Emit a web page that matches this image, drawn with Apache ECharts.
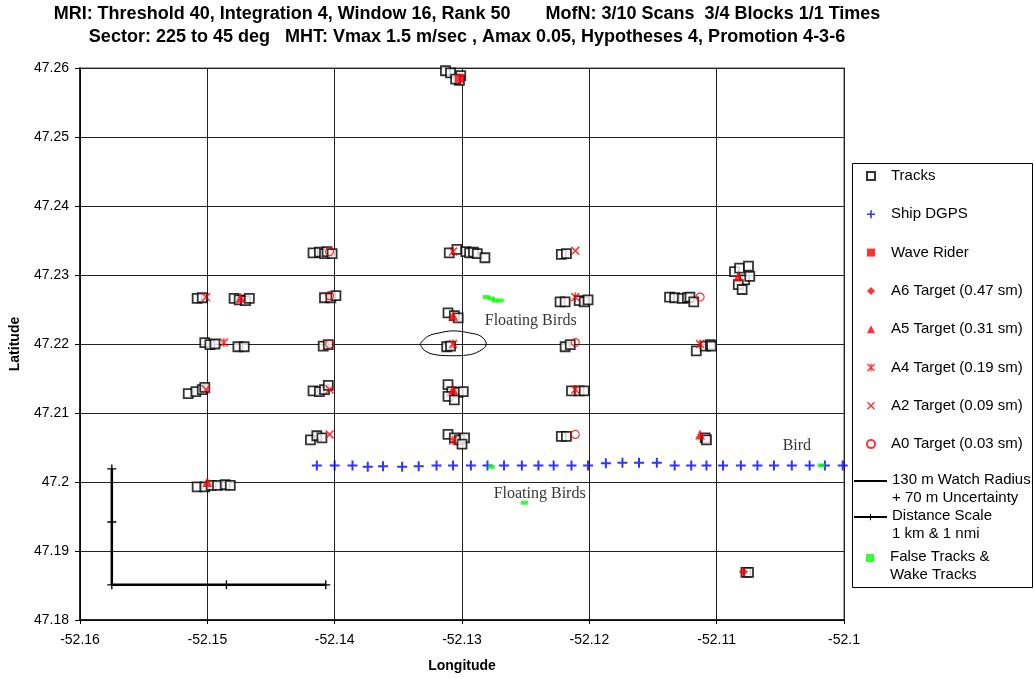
<!DOCTYPE html>
<html>
<head>
<meta charset="utf-8">
<title>MRI tracks</title>
<script src="https://cdn.jsdelivr.net/npm/echarts@6/dist/echarts.min.js"></script>
<style>
html,body{margin:0;padding:0;background:#fff;}
#main{width:1034px;height:679px;}
</style>
</head>
<body>
<div id="main"></div>
<script>
// axis ranges
const lonRange = [-52.16, -52.1]
const latRange = [47.18, 47.26]
const step = 0.01

// radar tracks [lon, lat]
const trackPts = [
  [-52.1313,47.2596],[-52.1309,47.2593],[-52.1301,47.2589],[-52.1302,47.2582],[-52.1305,47.2584],
  [-52.1417,47.2332],[-52.1412,47.2333],[-52.1408,47.2331],[-52.1406,47.2334],[-52.1402,47.2331],
  [-52.1310,47.2332],[-52.1304,47.2337],[-52.1297,47.2334],[-52.1294,47.2332],[-52.1291,47.2333],[-52.1288,47.2331],[-52.1282,47.2325],
  [-52.1222,47.2330],[-52.1218,47.2331],
  [-52.1086,47.2305],[-52.1082,47.2310],[-52.1075,47.2313],[-52.1078,47.2293],[-52.1083,47.2286],[-52.1074,47.2298],[-52.1080,47.2279],
  [-52.1508,47.2266],[-52.1504,47.2267],
  [-52.1479,47.2266],[-52.1475,47.2264],[-52.1470,47.2263],[-52.1467,47.2266],
  [-52.1408,47.2267],[-52.1403,47.2267],[-52.1399,47.2270],
  [-52.1311,47.2245],[-52.1306,47.2241],[-52.1303,47.2238],
  [-52.1502,47.2202],[-52.1498,47.2199],[-52.1494,47.2200],[-52.1476,47.2196],[-52.1471,47.2196],
  [-52.1409,47.2197],[-52.1405,47.2199],
  [-52.1312,47.2196],[-52.1309,47.2197],
  [-52.1515,47.2128],[-52.1509,47.2131],[-52.1504,47.2134],[-52.1502,47.2137],
  [-52.1417,47.2132],[-52.1412,47.2131],[-52.1408,47.2134],[-52.1405,47.2140],
  [-52.1311,47.2141],[-52.1308,47.2131],[-52.1303,47.2130],[-52.1299,47.2131],[-52.1311,47.2124],[-52.1306,47.2119],
  [-52.1419,47.2061],[-52.1414,47.2067],[-52.1410,47.2064],
  [-52.1311,47.2069],[-52.1306,47.2064],[-52.1302,47.2061],[-52.1298,47.2064],[-52.1300,47.2055],
  [-52.1223,47.2261],[-52.1219,47.2261],[-52.1208,47.2263],[-52.1204,47.2261],[-52.1201,47.2264],
  [-52.1137,47.2268],[-52.1133,47.2267],[-52.1127,47.2266],[-52.1123,47.2267],[-52.1121,47.2268],[-52.1118,47.2261],
  [-52.1219,47.2196],[-52.1215,47.2199],
  [-52.1116,47.2190],[-52.1109,47.2197],[-52.1105,47.2199],[-52.1104,47.2197],
  [-52.1214,47.2132],[-52.1208,47.2132],[-52.1204,47.2132],
  [-52.1222,47.2066],[-52.1218,47.2066],
  [-52.1109,47.2064],[-52.1108,47.2061],
  [-52.1508,47.1993],[-52.1502,47.1993],[-52.1497,47.1995],[-52.1492,47.1995],[-52.1486,47.1996],[-52.1482,47.1995],
  [-52.1077,47.1869],[-52.1075,47.1869]
]

// ship track
const shipLon = [-52.1414,-52.1400,-52.1386,-52.1374,-52.1362,-52.1347,-52.1334,-52.1320,-52.1307,-52.1293,
  -52.1280,-52.1267,-52.1253,-52.1240,-52.1228,-52.1214,-52.1201,-52.1187,-52.1174,-52.1161,
  -52.1147,-52.1133,-52.1120,-52.1108,-52.1095,-52.1081,-52.1068,-52.1055,-52.1041,-52.1027,-52.1015,-52.1001]
const shipLat = [47.2024,47.2024,47.2024,47.2022,47.2023,47.2022,47.2023,47.2024,47.2024,47.2024,
  47.2024,47.2024,47.2024,47.2024,47.2024,47.2024,47.2024,47.2027,47.2028,47.2028,
  47.2028,47.2024,47.2024,47.2024,47.2024,47.2024,47.2024,47.2024,47.2024,47.2024,47.2024,47.2024]

// targets
const waveRider = [[-52.1302,47.2585]]
const a6Pts = [[-52.1079,47.1870]]
const a5Pts = [[-52.1083,47.2298],[-52.1474,47.2267],[-52.1307,47.2241],[-52.1307,47.2134],[-52.1113,47.2069],[-52.1500,47.2000]]
const a4Pts = [[-52.1307,47.2334],[-52.1487,47.2202],[-52.1307,47.2200],[-52.1307,47.2060],[-52.1211,47.2268],[-52.1113,47.2200],[-52.1211,47.2134]]
const a2Pts = [[-52.1211,47.2335],[-52.1501,47.2268],[-52.1501,47.2134],[-52.1404,47.2134],[-52.1404,47.2069]]
const a0Pts = [[-52.1404,47.2334],[-52.1404,47.2270],[-52.1404,47.2200],[-52.1113,47.2268],[-52.1211,47.2202],[-52.1211,47.2069]]

const falsePts = [[-52.1281,47.2268],[-52.1277,47.2266],[-52.1274,47.2263],[-52.1270,47.2263],
  [-52.1277,47.2022],[-52.1251,47.1970],[-52.1018,47.2024]]

// watch radius outline
const watchRing = [[-52.1333,47.2200],[-52.1327,47.2211],[-52.1318,47.2216],[-52.1307,47.2219],[-52.1294,47.2216],
  [-52.1285,47.2211],[-52.1281,47.2200],[-52.1286,47.2190],[-52.1296,47.2184],[-52.1307,47.2183],
  [-52.1319,47.2184],[-52.1329,47.2190],[-52.1333,47.2200]]

const scaleBar = [[-52.1575,47.2019],[-52.1575,47.1942],[-52.1575,47.1851],[-52.1485,47.1851],[-52.1407,47.1851]]

const notes = [
  {name:'Floating Birds', value:[-52.1246,47.2234]},
  {name:'Floating Birds', value:[-52.1239,47.1983]},
  {name:'Bird', value:[-52.1037,47.2053]}
]

const plusPath = 'path://M0,4H10V6H0Z M4,0H6V10H4Z'
const crossPath = 'path://M0,1L1,0L8,7L7,8Z M7,0L8,1L1,8L0,7Z'
const starPath = 'path://M0,1L1,0L8,7L7,8Z M7,0L8,1L1,8L0,7Z M3.4,0H4.6V8H3.4Z'
const tickPath = 'path://M0,3.4H8V4.6H0Z M3.4,0H4.6V8H3.4Z'

const font = 'Liberation Sans'
const myChart = echarts.init(document.getElementById('main'))

// two-line legend entries: blank spacer on top so the icon sits by the first line
const twoLine = function (name) {
  const parts = name.split('\n')
  return '{s| }\n{a|' + parts[0] + '}\n{a|' + parts[1] + '}'
}
const twoLineText = {
  fontFamily: font, fontSize: 15, color: '#000',
  rich: {
    s: {fontSize: 10, lineHeight: 16},
    a: {fontFamily: font, fontSize: 15, color: '#000', lineHeight: 18}
  }
}

const option = {
  animation: false,
  backgroundColor: '#fff',
  title: {
    text: 'MRI: Threshold 40, Integration 4, Window 16, Rank 50       MofN: 3/10 Scans  3/4 Blocks 1/1 Times\nSector: 225 to 45 deg   MHT: Vmax 1.5 m/sec , Amax 0.05, Hypotheses 4, Promotion 4-3-6',
    left: 467,
    top: 3,
    padding: 0,
    textAlign: 'center',
    textStyle: {fontFamily: font, fontSize: 18, fontWeight: 'bold', color: '#000', lineHeight: 23}
  },
  grid: {left: 80, right: 190, top: 68, bottom: 59, show: true, borderColor: '#888', borderWidth: 1.5},
  legend: [
    {
      orient: 'vertical', padding: 0, left: 866, top: 168, itemWidth: 8, itemHeight: 8, itemGap: 22.3,
      textStyle: {fontFamily: font, fontSize: 15, color: '#000', lineHeight: 16, padding: [0, 0, 0, 11]},
      data: ['Tracks', 'Ship DGPS', 'Wave Rider', 'A6 Target (0.47 sm)', 'A5 Target (0.31 sm)',
        'A4 Target (0.19 sm)', 'A2 Target (0.09 sm)', 'A0 Target (0.03 sm)']
    },
    {
      orient: 'vertical', padding: 0, left: 853, top: 458, itemWidth: 33, itemHeight: 8,
      formatter: twoLine, textStyle: twoLineText,
      data: [{name: '130 m Watch Radius\n+ 70 m Uncertainty', itemStyle: {color: 'rgba(0,0,0,0)', borderWidth: 0}}]
    },
    {
      orient: 'vertical', padding: 0, left: 853, top: 494, itemWidth: 33, itemHeight: 8,
      formatter: twoLine, textStyle: twoLineText,
      data: ['Distance Scale\n1 km & 1 nmi']
    },
    {
      orient: 'vertical', padding: 0, left: 866, top: 535, itemWidth: 8, itemHeight: 8,
      formatter: twoLine,
      textStyle: Object.assign({}, twoLineText, {padding: [0, 0, 0, 11]}),
      data: ['False Tracks &\nWake Tracks']
    }
  ],
  graphic: [{
    type: 'rect',
    shape: {x: 852.5, y: 163.5, width: 180, height: 424},
    style: {fill: 'none', stroke: '#000', lineWidth: 1}
  }],
  xAxis: {
    type: 'value', min: lonRange[0], max: lonRange[1], interval: step,
    name: 'Longitude', nameLocation: 'middle', nameGap: 39,
    nameTextStyle: {fontFamily: font, fontSize: 14, fontWeight: 'bold', color: '#000'},
    axisLine: {show: true, onZero: false, lineStyle: {color: '#000', width: 1.5}},
    axisTick: {show: true, length: 4, lineStyle: {color: '#000'}},
    axisLabel: {fontFamily: font, fontSize: 14, color: '#000', margin: 13},
    splitLine: {show: true, lineStyle: {color: '#222', width: 1}}
  },
  yAxis: {
    type: 'value', min: latRange[0], max: latRange[1], interval: step,
    name: 'Latitude', nameLocation: 'middle', nameGap: 58,
    nameTextStyle: {fontFamily: font, fontSize: 14, fontWeight: 'bold', color: '#000'},
    axisLine: {show: true, onZero: false, lineStyle: {color: '#000', width: 1.5}},
    axisTick: {show: true, length: 5, lineStyle: {color: '#000'}},
    axisLabel: {fontFamily: font, fontSize: 14, color: '#000', margin: 11},
    splitLine: {show: true, lineStyle: {color: '#222', width: 1}}
  },
  series: [
    {
      name: 'Tracks', type: 'scatter', data: trackPts,
      symbol: 'rect', symbolSize: 9,
      itemStyle: {color: '#fff', borderColor: '#000', borderWidth: 1.8}
    },
    {
      name: 'Ship DGPS', type: 'scatter', data: shipLon.map((v, i) => [v, shipLat[i]]),
      symbol: plusPath, symbolSize: 10, symbolKeepAspect: true,
      itemStyle: {color: '#0000ff'}
    },
    {
      name: 'Wave Rider', type: 'scatter', data: waveRider,
      symbol: 'rect', symbolSize: 9, itemStyle: {color: '#ff0000'}
    },
    {
      name: 'A6 Target (0.47 sm)', type: 'scatter', data: a6Pts,
      symbol: 'diamond', symbolSize: 9, itemStyle: {color: '#ff0000'}
    },
    {
      name: 'A5 Target (0.31 sm)', type: 'scatter', data: a5Pts,
      symbol: 'triangle', symbolSize: 10, itemStyle: {color: '#ff0000'}
    },
    {
      name: 'A4 Target (0.19 sm)', type: 'scatter', data: a4Pts,
      symbol: starPath, symbolSize: 9, symbolKeepAspect: true, itemStyle: {color: '#ff0000'}
    },
    {
      name: 'A2 Target (0.09 sm)', type: 'scatter', data: a2Pts,
      symbol: crossPath, symbolSize: 9, symbolKeepAspect: true, itemStyle: {color: '#ff0000'}
    },
    {
      name: 'A0 Target (0.03 sm)', type: 'scatter', data: a0Pts,
      symbol: 'circle', symbolSize: 8,
      itemStyle: {color: 'rgba(255,255,255,0)', borderColor: '#ff0000', borderWidth: 1.2}
    },
    {
      name: '130 m Watch Radius\n+ 70 m Uncertainty', type: 'line', data: watchRing,
      smooth: 0.4, symbol: 'none', lineStyle: {color: '#000', width: 1}, itemStyle: {color: '#000'}
    },
    {
      name: 'Distance Scale\n1 km & 1 nmi', type: 'line', data: scaleBar,
      symbol: tickPath, symbolSize: 9, showAllSymbol: true,
      lineStyle: {color: '#000', width: 2.5}, itemStyle: {color: '#000'}
    },
    {
      name: 'False Tracks &\nWake Tracks', type: 'scatter', data: falsePts,
      symbol: 'rect', symbolSize: [7, 4], itemStyle: {color: '#00ff00'}
    },
    {
      name: 'notes', type: 'scatter', data: notes, silent: true,
      symbolSize: 1, itemStyle: {color: 'rgba(0,0,0,0)'},
      label: {show: true, position: 'inside', formatter: '{b}', fontFamily: 'Liberation Serif', fontSize: 16, color: '#000'}
    }
  ]
}

myChart.setOption(option)
</script>
</body>
</html>
